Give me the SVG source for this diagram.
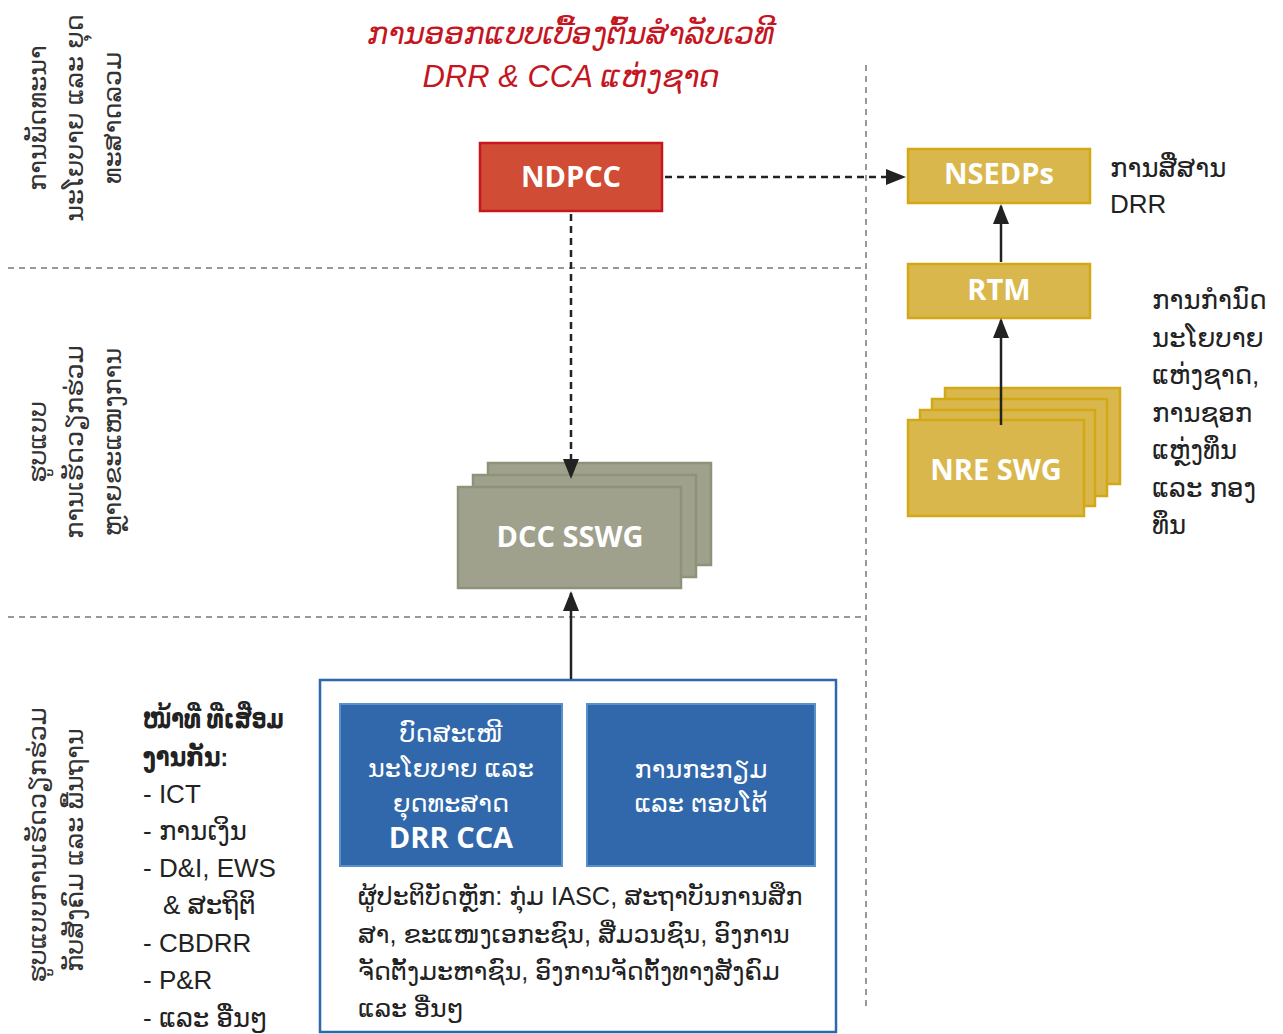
<svg xmlns="http://www.w3.org/2000/svg" width="1283" height="1034" viewBox="0 0 1283 1034">
<defs>
<style>
.t{font-family:'Liberation Sans','DejaVu Sans',sans-serif;font-size:26px;fill:#222}
.p{font-family:'Liberation Sans','DejaVu Sans',sans-serif;font-size:25.3px;fill:#222}
.vt{font-family:'Liberation Sans','DejaVu Sans',sans-serif;font-size:25.5px;fill:#333;text-anchor:middle}
.lbl{font-family:'Open Sans','DejaVu Sans',sans-serif;font-weight:bold;font-size:29px;fill:#fff;text-anchor:middle}
.wt{font-family:'Liberation Sans','DejaVu Sans',sans-serif;font-size:25.5px;fill:#fff;text-anchor:middle}
.sep{stroke:#999;stroke-width:2;stroke-dasharray:6 5;fill:none}
.gold{fill:#dab74c;stroke:#d2a915;stroke-width:2.5}
.grey{fill:#9fa18d;stroke:#8d927a;stroke-width:2.5}
.blue{fill:#3168ac;stroke:#5a8fca;stroke-width:2}
</style>
<marker id="ah2" viewBox="0 0 10 10" refX="9" refY="5" markerWidth="20" markerHeight="16" orient="auto" markerUnits="userSpaceOnUse" preserveAspectRatio="none">
<path d="M0,0 L10,5 L0,10 z" fill="#222"/>
</marker>
</defs>
<rect width="1283" height="1034" fill="#fff"/>

<g id="separators">
<line class="sep" x1="866" y1="65" x2="866" y2="1010"/>
<line class="sep" x1="8" y1="268" x2="866" y2="268"/>
<line class="sep" x1="8" y1="617" x2="866" y2="617"/>
</g>

<g id="title" font-family="'Liberation Sans','DejaVu Sans',sans-serif" font-style="italic" font-size="31" fill="#c4161f" text-anchor="middle">
<text x="571" y="44">ການອອກແບບເບື້ອງຕົ້ນສຳລັບເວທີ</text>
<text x="571" y="87">DRR &amp; CCA ແຫ່ງຊາດ</text>
</g>

<g id="row-labels">
<text class="vt" transform="translate(46,118) rotate(-90)">ການພັດທະນາ</text>
<text class="vt" transform="translate(83,118) rotate(-90)">ນະໂຍບາຍ ແລະ ຍຸດ</text>
<text class="vt" transform="translate(121,118) rotate(-90)">ທະສາດລວມ</text>
<text class="vt" transform="translate(46,442) rotate(-90)">ຮູບແບບ</text>
<text class="vt" transform="translate(83,442) rotate(-90)">ການເຮັດວຽກຮ່ວມ</text>
<text class="vt" transform="translate(121,442) rotate(-90)">ຫຼາຍຂະແໜງການ</text>
<text class="vt" transform="translate(46,845) rotate(-90)">ຮູບແບບການເຮັດວຽກຮ່ວມ</text>
<text class="vt" transform="translate(83,850) rotate(-90)">ກັບສັງຄົມ ແລະ ພື້ນຖານ</text>
</g>

<g id="ndpcc">
<rect x="480" y="143" width="182" height="68" fill="#d04c34" stroke="#c8161e" stroke-width="2.5"/>
<text class="lbl" x="571" y="187" font-size="28">NDPCC</text>
</g>

<g id="dcc-sswg">
<rect class="grey" x="488" y="463" width="223" height="102"/>
<rect class="grey" x="473" y="475" width="223" height="102"/>
<rect class="grey" x="458" y="487" width="223" height="101"/>
<text class="lbl" x="570" y="547">DCC SSWG</text>
</g>

<g id="nsedps">
<rect class="gold" x="908" y="149" width="182" height="54"/>
<text class="lbl" x="999" y="184" font-size="28">NSEDPs</text>
</g>

<g id="rtm">
<rect class="gold" x="908" y="264" width="182" height="54"/>
<text class="lbl" x="999" y="300" font-size="28">RTM</text>
</g>

<g id="nre-swg">
<rect class="gold" x="945" y="388" width="175" height="96"/>
<rect class="gold" x="932" y="399" width="175" height="97"/>
<rect class="gold" x="920" y="410" width="175" height="96"/>
<rect class="gold" x="908" y="420" width="176" height="96"/>
<text class="lbl" x="996" y="480">NRE SWG</text>
</g>

<g id="right-notes">
<text class="t" x="1110" y="177">ການສື່ສານ</text>
<text class="t" x="1110" y="213">DRR</text>
<text class="t" x="1152" y="309">ການກຳນົດ</text>
<text class="t" x="1152" y="347">ນະໂຍບາຍ</text>
<text class="t" x="1152" y="384">ແຫ່ງຊາດ,</text>
<text class="t" x="1152" y="422">ການຊອກ</text>
<text class="t" x="1152" y="459">ແຫຼ່ງທຶນ</text>
<text class="t" x="1152" y="497">ແລະ ກອງ</text>
<text class="t" x="1152" y="534">ທຶນ</text>
</g>

<g id="functions-list">
<text class="t" x="143" y="728" font-weight="bold" textLength="141" lengthAdjust="spacingAndGlyphs">ໜ້າທີ່ ທີ່ເສື່ອມ</text>
<text class="t" x="143" y="766" font-weight="bold" textLength="85" lengthAdjust="spacingAndGlyphs">ງານກັນ:</text>
<text class="t" x="143" y="803">- ICT</text>
<text class="t" x="143" y="840">- ການເງິນ</text>
<text class="t" x="143" y="877">- D&amp;I, EWS</text>
<text class="t" x="163" y="914">&amp; ສະຖິຕິ</text>
<text class="t" x="143" y="952">- CBDRR</text>
<text class="t" x="143" y="989">- P&amp;R</text>
<text class="t" x="143" y="1027">- ແລະ ອື່ນໆ</text>
</g>

<g id="community-frame">
<rect x="320" y="680" width="516" height="352" fill="#fff" stroke="#2e67ab" stroke-width="2.5"/>
<text class="p" x="358" y="905">ຜູ້ປະຕິບັດຫຼັກ: ກຸ່ມ IASC, ສະຖາບັນການສຶກ</text>
<text class="p" x="358" y="943">ສາ, ຂະແໜງເອກະຊົນ, ສື່ມວນຊົນ, ອົງການ</text>
<text class="p" x="358" y="980">ຈັດຕັ້ງມະຫາຊົນ, ອົງການຈັດຕັ້ງທາງສັງຄົມ</text>
<text class="p" x="358" y="1017">ແລະ ອື່ນໆ</text>
</g>

<g id="policy-box">
<rect class="blue" x="340" y="704" width="222" height="162"/>
<text class="wt" x="451" y="742">ບົດສະເໜີ</text>
<text class="wt" x="451" y="777">ນະໂຍບາຍ ແລະ</text>
<text class="wt" x="451" y="812">ຍຸດທະສາດ</text>
<text class="lbl" x="451" y="848">DRR CCA</text>
</g>

<g id="preparedness-box">
<rect class="blue" x="587" y="704" width="228" height="162"/>
<text class="wt" x="701" y="778">ການກະກຽມ</text>
<text class="wt" x="701" y="812">ແລະ ຕອບໂຕ້</text>
</g>

<g id="connectors" stroke="#222" stroke-width="2.5" fill="none">
<line x1="665" y1="177" x2="904" y2="177" stroke-dasharray="7 5" marker-end="url(#ah2)"/>
<line x1="571" y1="214" x2="571" y2="477" stroke-dasharray="7 5" marker-end="url(#ah2)"/>
<line x1="571" y1="679" x2="571" y2="593" marker-end="url(#ah2)"/>
<line x1="1001" y1="262" x2="1001" y2="206" marker-end="url(#ah2)"/>
<line x1="1001" y1="425" x2="1001" y2="320" marker-end="url(#ah2)"/>
</g>
</svg>
